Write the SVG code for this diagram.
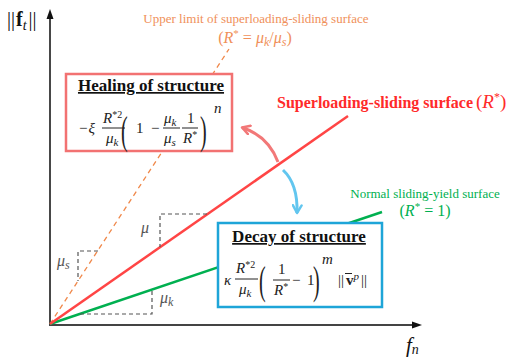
<svg xmlns="http://www.w3.org/2000/svg" width="515" height="358" viewBox="0 0 515 358">
<style>
text{font-family:"Liberation Serif","Times New Roman",serif;}
.it{font-style:italic;}
.m{font-size:15px;fill:#222;}
.sup{font-size:10px;}
.dash{fill:none;stroke:#555;stroke-width:1.2;stroke-dasharray:4 3;}
.bar{stroke:#222;stroke-width:1;}
.title{font-size:17px;font-weight:bold;text-decoration:underline;fill:#111;}
.paren{font-size:40px;fill:#222;}
</style>
<defs>
<marker id="ahS" viewBox="0 0 10 10" refX="8" refY="5" markerWidth="11" markerHeight="11" markerUnits="userSpaceOnUse" orient="auto"><path d="M1,1 L8,5 L1,9" fill="none" stroke="#f27878" stroke-width="2.2" stroke-linecap="round" stroke-linejoin="round"/></marker>
<marker id="ahB" viewBox="0 0 10 10" refX="8" refY="5" markerWidth="11" markerHeight="11" markerUnits="userSpaceOnUse" orient="auto"><path d="M1,1 L8,5 L1,9" fill="none" stroke="#62c6ef" stroke-width="2.2" stroke-linecap="round" stroke-linejoin="round"/></marker>
</defs>
<rect width="515" height="358" fill="#fff"/>

<g id="axes">
<line x1="50" y1="325" x2="50" y2="17" stroke="#333" stroke-width="1.8"/>
<polygon points="50,9 46.5,19 53.5,19" fill="#111"/>
<line x1="49" y1="325" x2="414" y2="325" stroke="#444" stroke-width="1.8"/>
<polygon points="422,325 412,321.5 412,328.5" fill="#111"/>
<text x="7" y="26" font-size="20" fill="#111">||<tspan font-weight="bold" dx="1">f</tspan><tspan class="it" font-size="14" dy="4">t</tspan><tspan dy="-4" dx="2">||</tspan></text>
<text x="406" y="352" font-size="21" class="it" fill="#111">f<tspan font-size="14" dy="2">n</tspan></text>
</g>

<g id="connectors">
<line x1="50" y1="324" x2="229" y2="49" stroke="#f0884a" stroke-width="1.3" stroke-dasharray="5 4"/>
<line x1="50" y1="324" x2="382" y2="212" stroke="#00b050" stroke-width="2.5"/>
<line x1="50" y1="324" x2="348" y2="116" stroke="#ff4545" stroke-width="2.5"/>
<path class="dash" d="M98,251 H78 V281"/>
<path class="dash" d="M207,214 H160 V247"/>
<path class="dash" d="M80,314 H152 V290"/>
<path d="M278,162 Q268,136 242,127.5" fill="none" stroke="#f27878" stroke-width="3" marker-end="url(#ahS)"/>
<path d="M283,170 Q298,184 297,213" fill="none" stroke="#62c6ef" stroke-width="3" marker-end="url(#ahB)"/>
</g>

<g id="slope-labels" class="it" font-size="16" fill="#555">
<text x="57" y="266">μ<tspan font-size="12" dy="3">s</tspan></text>
<text x="141" y="233">μ</text>
<text x="160" y="303">μ<tspan font-size="12" dy="3">k</tspan></text>
</g>

<g id="upper-limit-label" fill="#f0905a">
<text x="256" y="23" font-size="13" text-anchor="middle">Upper limit of superloading-sliding surface</text>
<text x="255" y="43" font-size="16" text-anchor="middle">(<tspan class="it">R</tspan><tspan font-size="11" dy="-6">*</tspan><tspan dy="6"> = </tspan><tspan class="it">μ</tspan><tspan class="it" font-size="12" dy="3">k</tspan><tspan dy="-3">/</tspan><tspan class="it">μ</tspan><tspan class="it" font-size="12" dy="3">s</tspan><tspan dy="-3">)</tspan></text>
</g>

<g id="superloading-label" fill="#ff2a2a">
<text x="277" y="108" font-size="16" font-weight="bold">Superloading-sliding surface</text>
<text x="476" y="108" font-size="19">(<tspan class="it">R</tspan><tspan font-size="12" dy="-7">*</tspan><tspan dy="7">)</tspan></text>
</g>

<g id="normal-label" fill="#00b050">
<text x="425" y="198" font-size="13" text-anchor="middle">Normal sliding-yield surface</text>
<text x="425" y="216" font-size="16" text-anchor="middle">(<tspan class="it">R</tspan><tspan font-size="11" dy="-6">*</tspan><tspan dy="6"> = 1)</tspan></text>
</g>

<g id="healing">
<rect x="66" y="74" width="166" height="77" fill="#fff" stroke="#f27272" stroke-width="2.5"/>
<text class="title" x="151" y="91" text-anchor="middle">Healing of structure</text>
<text class="m" x="79" y="133">−<tspan class="it" dx="1">ξ</tspan></text>
<text class="m it" x="103" y="123">R<tspan class="sup" font-style="normal" dy="-5">*2</tspan></text>
<line class="bar" x1="102" y1="128" x2="125" y2="128"/>
<text class="m it" x="106" y="143">μ<tspan font-size="11" dy="3">k</tspan></text>
<text class="paren" transform="translate(121,144) scale(0.5,1)">(</text>
<text class="m" x="136" y="133">1</text>
<text class="m" x="151" y="133">−</text>
<text class="m it" x="164" y="123">μ<tspan font-size="11" dy="3">k</tspan></text>
<line class="bar" x1="163" y1="128" x2="180" y2="128"/>
<text class="m it" x="164" y="143">μ<tspan font-size="11" dy="3">s</tspan></text>
<text class="m" x="187" y="123">1</text>
<line class="bar" x1="182" y1="128" x2="198" y2="128"/>
<text class="m it" x="183" y="143">R<tspan class="sup" font-style="normal" dy="-5">*</tspan></text>
<text class="paren" transform="translate(200,144) scale(0.5,1)">)</text>
<text class="m it" x="214" y="113" font-size="12">n</text>
</g>

<g id="decay">
<rect x="218" y="223" width="164" height="84" fill="#fff" stroke="#1ea5d8" stroke-width="2.5"/>
<text class="title" x="299" y="242" text-anchor="middle">Decay of structure</text>
<text class="m it" x="224" y="285">κ</text>
<text class="m it" x="236" y="273">R<tspan class="sup" font-style="normal" dy="-5">*2</tspan></text>
<line class="bar" x1="235" y1="279" x2="258" y2="279"/>
<text class="m it" x="239" y="294">μ<tspan font-size="11" dy="3">k</tspan></text>
<text class="paren" transform="translate(259,294) scale(0.5,1)">(</text>
<text class="m" x="278" y="274">1</text>
<line class="bar" x1="273" y1="280" x2="290" y2="280"/>
<text class="m it" x="274" y="295">R<tspan class="sup" font-style="normal" dy="-5">*</tspan></text>
<text class="m" x="292" y="285">−</text>
<text class="m" x="307" y="285">1</text>
<text class="paren" transform="translate(313,294) scale(0.5,1)">)</text>
<text class="m it" x="322" y="264" font-size="12">m</text>
<text class="m" x="338" y="285">||<tspan font-weight="bold" dx="2">v</tspan><tspan class="it" font-size="11" dy="-5">p</tspan><tspan dy="5" dx="2">||</tspan></text>
<line x1="345" y1="273.5" x2="352" y2="273.5" stroke="#222" stroke-width="1"/>
</g>
</svg>
